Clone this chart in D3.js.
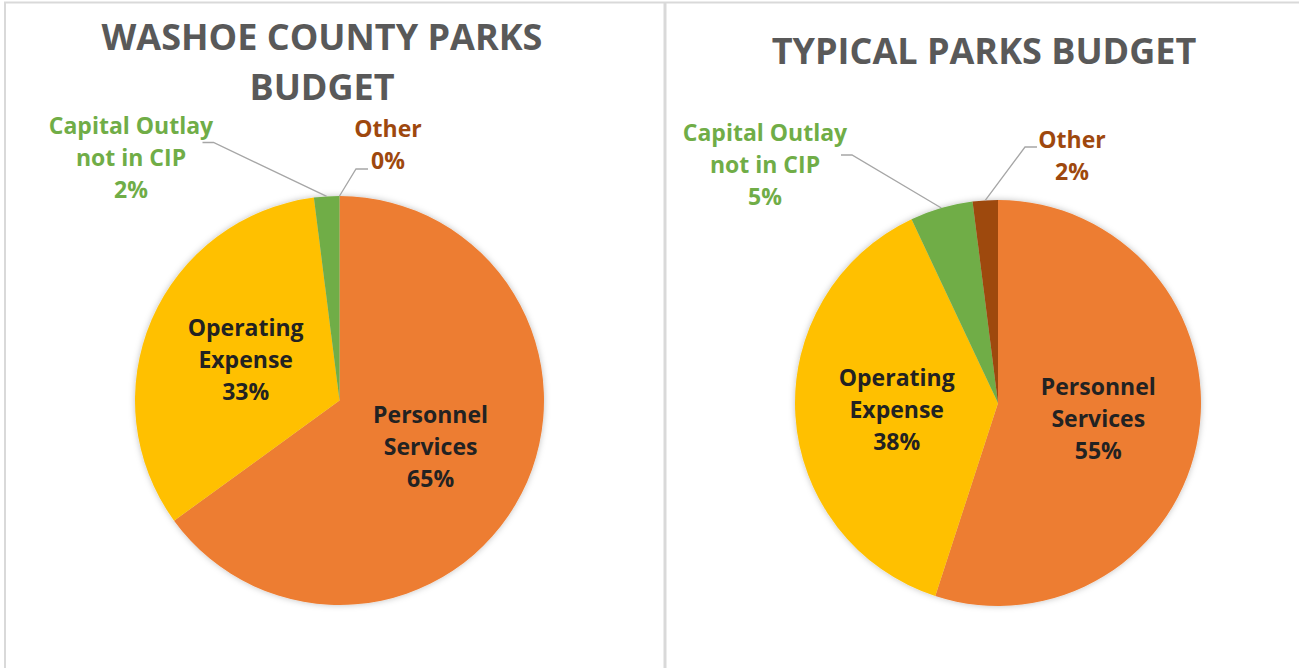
<!DOCTYPE html>
<html>
<head>
<meta charset="utf-8">
<script src="https://cdn.jsdelivr.net/npm/d3@7"></script>
<style>
  body { margin: 0; background: #fff; }
  text { font-family: "Open Sans", "Noto Sans", sans-serif; font-weight: bold; }
</style>
</head>
<body>
<svg id="chart" width="1299" height="668"></svg>
<script>
// Chart data
const categories = ["Personnel Services", "Operating Expense", "Capital Outlay not in CIP", "Other"];
const labelLines = [["Personnel", "Services"], ["Operating", "Expense"], ["Capital Outlay", "not in CIP"], ["Other"]];
const washoeValues = [65, 33, 2, 0];
const typicalValues = [55, 38, 5, 2];
const sliceColors = ["#ED7D31", "#FFC000", "#70AD47", "#9E480E"];

// Layout of each panel (positions relative to pie centre for the callouts)
const panels = [
    {
        values: washoeValues,
        title: ["WASHOE COUNTY PARKS", "BUDGET"],
        cx: 339.5, cy: 400.5, r: 204.5,
        titleX: 322, titleY: 50,
        callouts: {
            2: { label: [-208.5, -242.5], line: [[-137, -258], [-126, -258]] },
            3: { label: [48.5, -255.5], line: [[16.5, -231.5], [28.5, -231.5]] }
        }
    },
    {
        values: typicalValues,
        title: ["TYPICAL PARKS BUDGET"],
        cx: 998, cy: 403, r: 203,
        titleX: 984, titleY: 64,
        callouts: {
            2: { label: [-233, -238], line: [[-157, -248], [-146, -248]] },
            3: { label: [74, -247], line: [[27, -256], [39, -256]] }
        }
    }
];

const FONT = 23;
const LINE_H = 32;
const TITLE_FONT = 36;

const svg = d3.select('#chart');

// Drop shadow like the office chart
const defs = svg.append('defs');
defs.append('filter')
    .attr('id', 'pie-shadow')
    .attr('x', '-10%').attr('y', '-10%')
    .attr('width', '120%').attr('height', '120%')
    .append('feDropShadow')
    .attr('dx', 0).attr('dy', 0)
    .attr('stdDeviation', 3)
    .attr('flood-color', '#000')
    .attr('flood-opacity', 0.25);

// Panel borders
const borderColor = '#d9d9d9';
svg.append('line').attr('x1', 4).attr('x2', 1299).attr('y1', 2.5).attr('y2', 2.5)
    .attr('stroke', borderColor).attr('stroke-width', 2);
svg.append('line').attr('x1', 5).attr('x2', 5).attr('y1', 2).attr('y2', 668)
    .attr('stroke', borderColor).attr('stroke-width', 2);
svg.append('line').attr('x1', 665).attr('x2', 665).attr('y1', 2).attr('y2', 668)
    .attr('stroke', borderColor).attr('stroke-width', 3);

const pie = d3.pie().sort(null).value(d => d);
const fmt = d3.format('.0%');

function writeLines(sel, lines, x, yMid, color) {
    const n = lines.length;
    lines.forEach((t, i) => {
        sel.append('text')
            .attr('x', x)
            .attr('y', yMid + (i - (n - 1) / 2) * LINE_H + FONT * 0.36)
            .attr('text-anchor', 'middle')
            .attr('font-size', FONT)
            .attr('fill', color)
            .text(t);
    });
}

panels.forEach(p => {
    const total = d3.sum(p.values);
    const arcs = pie(p.values);
    const arc = d3.arc().innerRadius(0).outerRadius(p.r);
    const labelArc = d3.arc().innerRadius(p.r * 0.5).outerRadius(p.r * 0.5);
    const edgeArc = d3.arc().innerRadius(p.r).outerRadius(p.r);

    // title
    p.title.forEach((t, i) => {
        svg.append('text')
            .attr('x', p.titleX)
            .attr('y', p.titleY + i * 50)
            .attr('text-anchor', 'middle')
            .attr('font-size', TITLE_FONT)
            .attr('fill', '#595959')
            .text(t);
    });

    const g = svg.append('g').attr('transform', `translate(${p.cx},${p.cy})`);

    g.append('g')
        .attr('filter', 'url(#pie-shadow)')
        .selectAll('path')
        .data(arcs)
        .join('path')
        .attr('d', arc)
        .attr('fill', (d, i) => sliceColors[i]);

    arcs.forEach((d, i) => {
        const pct = fmt(d.data / total);
        const lines = labelLines[i].concat([pct]);
        const co = p.callouts[i];
        if (co) {
            // outside label with leader line
            const edge = edgeArc.centroid(d);
            const pts = i === 2
                ? [co.line[0], co.line[1], edge]
                : [edge, co.line[0], co.line[1]];
            g.append('polyline')
                .attr('points', pts.map(q => q.join(',')).join(' '))
                .attr('fill', 'none')
                .attr('stroke', '#a6a6a6')
                .attr('stroke-width', 1.3);
            writeLines(g, lines, co.label[0], co.label[1], sliceColors[i]);
        } else {
            const c = labelArc.centroid(d);
            writeLines(g, lines, c[0], c[1], '#222');
        }
    });
});
</script>
</body>
</html>
